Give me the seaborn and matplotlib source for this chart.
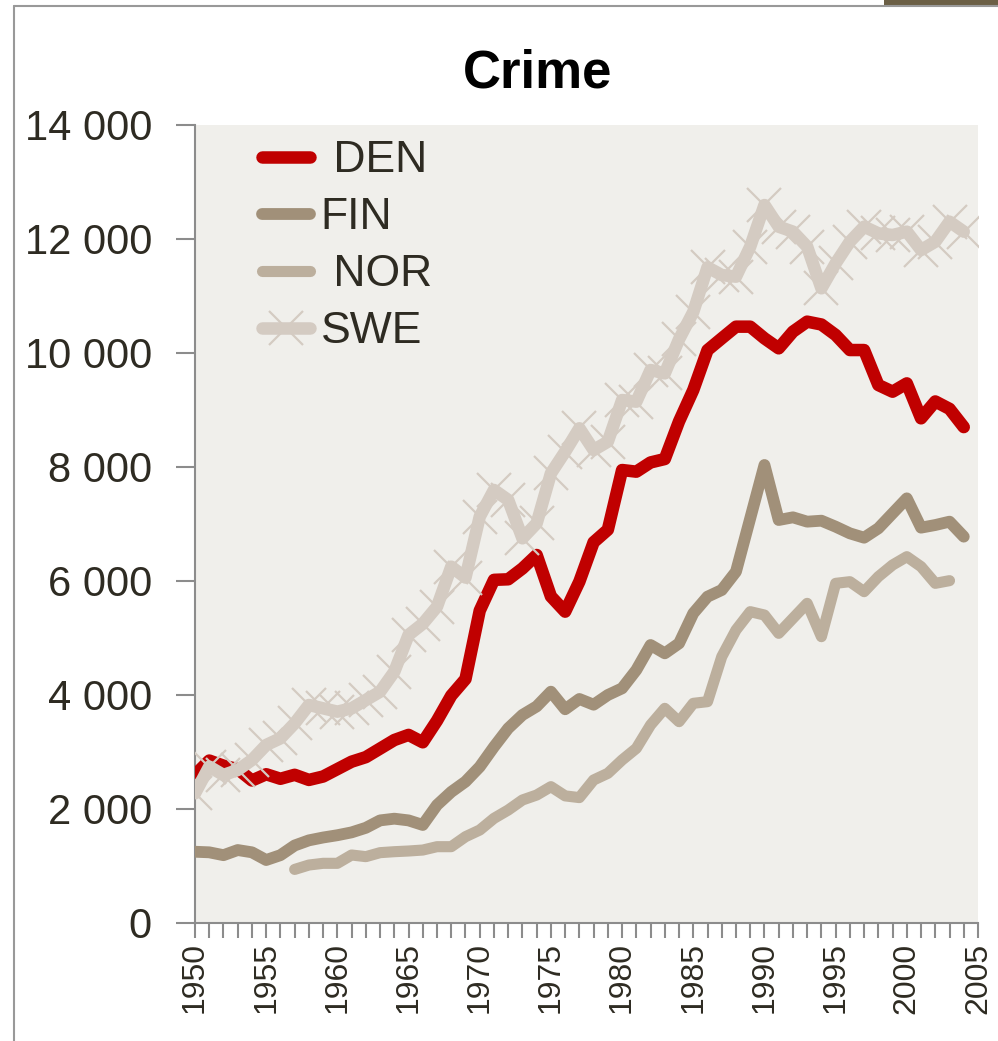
import matplotlib
matplotlib.use("Agg")
import matplotlib.pyplot as plt
import seaborn as sns
from matplotlib import font_manager
from matplotlib.ticker import FuncFormatter, MultipleLocator
from matplotlib.patches import Rectangle
from matplotlib.lines import Line2D

# ---------------- data ----------------
years = list(range(1950, 2005))
den = [2600, 2850, 2760, 2700, 2500, 2610, 2530, 2600, 2510, 2570,
       2700, 2830, 2910, 3060, 3210, 3300, 3170, 3550, 3990, 4280,
       5480, 6020, 6030, 6220, 6456, 5730, 5462, 5990, 6680, 6900,
       7947, 7918, 8080, 8140, 8800, 9350, 10050, 10257, 10462, 10462,
       10257, 10082, 10374, 10550, 10500, 10316, 10052, 10052, 9438, 9321,
       9467, 8854, 9150, 9020, 8700]
fin = [1250, 1240, 1190, 1280, 1240, 1105, 1190, 1360, 1450, 1500,
       1540, 1590, 1670, 1800, 1830, 1800, 1720, 2070, 2300, 2480,
       2740, 3090, 3415, 3650, 3800, 4058, 3750, 3930, 3830, 4000,
       4117, 4439, 4877, 4731, 4906, 5433, 5725, 5842, 6164, 7099,
       8035, 7070, 7117, 7041, 7058, 6953, 6836, 6760, 6924, 7187,
       7450, 6936, 6982, 7041, 6778]
nor_years = list(range(1957, 2004))
nor = [940, 1017, 1047, 1047, 1193, 1164, 1234, 1251, 1263, 1280,
       1339, 1339, 1514, 1631, 1836, 1982, 2158, 2245, 2392, 2230,
       2200, 2509, 2626, 2860, 3064, 3474, 3766, 3532, 3854, 3883,
       4672, 5140, 5462, 5403, 5082, 5345, 5608, 5023, 5959, 5988,
       5813, 6076, 6281, 6427, 6252, 5959, 6006]
swe = [2275, 2743, 2597, 2684, 2860, 3123, 3240, 3503, 3825, 3766,
       3708, 3766, 3912, 4058, 4409, 5053, 5250, 5550, 6251, 6060,
       7129, 7597, 7421, 6749, 7012, 7889, 8269, 8679, 8298, 8445,
       9175, 9146, 9702, 9643, 10240, 10720, 11503, 11368, 11339, 11865,
       12596, 12216, 12129, 11865, 11135, 11573, 11953, 12216, 12099, 12070,
       12129, 11807, 11953, 12304, 12129]
labels = [" DEN", "FIN", " NOR", "SWE"]
yticks = list(range(0, 14001, 2000))

# ---------------- style ----------------
sns.set_theme(style="white")
available = {f.name for f in font_manager.fontManager.ttflist}
narrow = "Liberation Sans Narrow" if "Liberation Sans Narrow" in available else "Liberation Sans"
plt.rcParams["font.family"] = ["Liberation Sans", "DejaVu Sans"]

TXT = "#2E2B22"
AXC = "#8C8C8C"

fig = plt.figure(figsize=(9.98, 10.41), dpi=100)
fig.patch.set_facecolor("white")
ax = fig.add_axes([195 / 998, 1 - 923 / 1041, 783 / 998, 798 / 1041])
ax.set_facecolor("#F0EFEB")

common = dict(ax=ax, estimator=None, sort=False, legend=False,
              solid_capstyle="round", solid_joinstyle="round")
sns.lineplot(x=years, y=den, color="#C00000", linewidth=9, label=labels[0], zorder=3, **common)
sns.lineplot(x=years, y=fin, color="#A19079", linewidth=8.5, label=labels[1], zorder=3, **common)
sns.lineplot(x=nor_years, y=nor, color="#BCAF9D", linewidth=8, label=labels[2], zorder=3, **common)
sns.lineplot(x=years, y=swe, color="#D4CBC2", linewidth=9, label=labels[3], zorder=3,
             marker="x", markersize=25, markeredgewidth=1.6,
             markeredgecolor="#D4CBC2", **common)

ax.set_xlim(1950, 2005)
ax.set_ylim(0, 14000)
ax.set_xlabel("")
ax.set_ylabel("")
ax.set_yticks(yticks)
ax.yaxis.set_major_formatter(FuncFormatter(lambda v, p: f"{int(v):,}".replace(",", " ")))
ax.xaxis.set_major_locator(MultipleLocator(5))
ax.xaxis.set_minor_locator(MultipleLocator(1))
ax.grid(False)

ax.tick_params(axis="x", which="both", direction="out", length=11, width=1.5,
               color=AXC, bottom=True, labelsize=23, labelcolor=TXT,
               labelrotation=90, pad=3)
ax.tick_params(axis="y", which="major", direction="out", length=14, width=1.5,
               color=AXC, left=True, labelsize=30, labelcolor=TXT, pad=17)
for s in ["top", "right"]:
    ax.spines[s].set_visible(False)
for s in ["left", "bottom"]:
    ax.spines[s].set_color(AXC)
    ax.spines[s].set_linewidth(1.5)

leg = ax.legend(loc="upper left", bbox_to_anchor=(0.0856, 0.981), frameon=False,
                borderpad=0, borderaxespad=0, handlelength=1.08, handletextpad=0.24,
                labelspacing=0.36, numpoints=1, prop={"family": narrow, "size": 32})
for t in leg.get_texts():
    t.set_color(TXT)

fig.text(538 / 998, 1 - 88 / 1041, "Crime", ha="center", va="baseline",
         fontsize=38, fontweight="bold", color="black")

# frame decoration
fig.add_artist(Line2D([14 / 998, 14 / 998], [0, 1 - 6 / 1041],
                      transform=fig.transFigure, color="#999999", lw=1.5))
fig.add_artist(Line2D([14 / 998, 1], [1 - 6 / 1041, 1 - 6 / 1041],
                      transform=fig.transFigure, color="#999999", lw=1.5))
fig.add_artist(Rectangle((884 / 998, 1 - 5 / 1041), 114 / 998, 5 / 1041,
                         transform=fig.transFigure, color="#6B5F45", lw=0))

fig.savefig("out.png", dpi=100)
